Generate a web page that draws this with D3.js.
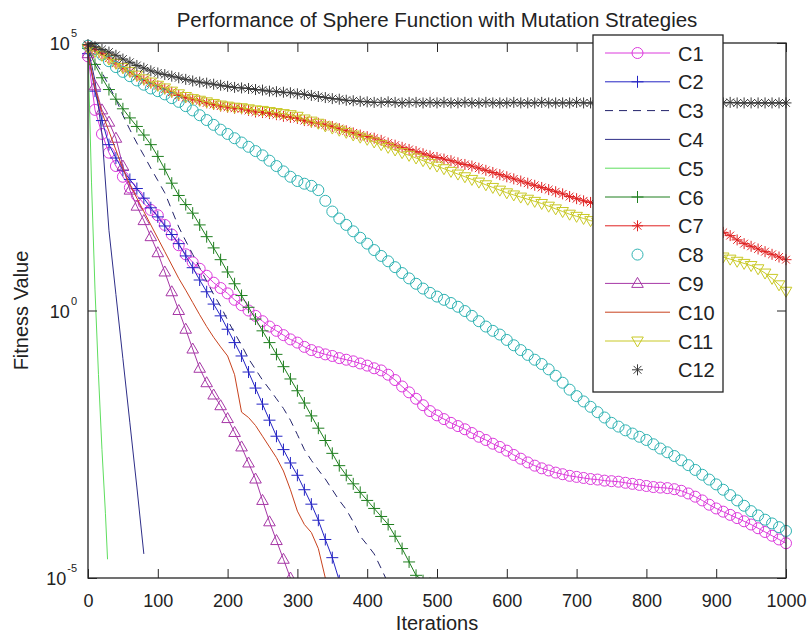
<!DOCTYPE html>
<html><head><meta charset="utf-8">
<script src="https://cdn.jsdelivr.net/npm/d3@7"></script>
<style>body{margin:0;background:#fff} text{font-family:"Liberation Sans",Arial,sans-serif;fill:#222}</style>
</head><body><svg id="chart" width="809" height="635"></svg>
<script>
// All series values are log10(fitness), sampled every 10 iterations unless noted.
const xTicks = [0,100,200,300,400,500,600,700,800,900,1000];
const yTickExp = [5,0,-5];
const names = ["C1","C2","C3","C4","C5","C6","C7","C8","C9","C10","C11","C12"];

const c1 = [4.75,3.75,3.3,2.95,2.7,2.5,2.3,2.15,2.0,1.88,1.78,1.6,1.42,1.22,1.05,0.9,0.78,0.65,0.52,0.42,0.32,0.2,0.1,0.0,-0.1,-0.2,-0.3,-0.38,-0.46,-0.54,-0.6,-0.68,-0.74,-0.78,-0.82,-0.85,-0.89,-0.92,-0.95,-0.99,-1.03,-1.08,-1.12,-1.2,-1.3,-1.42,-1.53,-1.65,-1.77,-1.88,-1.96,-2.03,-2.1,-2.16,-2.22,-2.29,-2.36,-2.42,-2.49,-2.55,-2.62,-2.7,-2.77,-2.84,-2.9,-2.95,-2.99,-3.03,-3.06,-3.09,-3.11,-3.13,-3.15,-3.16,-3.18,-3.19,-3.2,-3.22,-3.24,-3.26,-3.28,-3.3,-3.31,-3.32,-3.34,-3.37,-3.42,-3.48,-3.55,-3.63,-3.7,-3.76,-3.82,-3.88,-3.94,-4.0,-4.07,-4.14,-4.21,-4.28,-4.35];
const c2 = [4.8,4.1,3.55,3.1,2.85,2.62,2.45,2.28,2.1,1.92,1.75,1.58,1.42,1.25,1.02,0.8,0.57,0.35,0.12,-0.1,-0.35,-0.6,-0.85,-1.15,-1.45,-1.75,-2.05,-2.35,-2.6,-2.85,-3.08,-3.35,-3.62,-3.92,-4.28,-4.62,-5.05];
const c3 = [4.85,4.65,4.45,4.2,3.95,3.65,3.38,3.13,2.9,2.66,2.43,2.2,1.88,1.56,1.3,1.05,0.8,0.55,0.3,0.08,-0.18,-0.42,-0.65,-0.9,-1.1,-1.3,-1.47,-1.65,-1.83,-2.05,-2.32,-2.6,-2.8,-2.98,-3.15,-3.35,-3.55,-3.72,-3.95,-4.22,-4.38,-4.55,-4.82,-5.1];
const c4 = [4.9,4.3,3.3,1.5,0.3,-0.9,-2.1,-3.3,-4.55];
const c5Iter = [0,5,10,15,20,25,28];
const c5 = [4.9,2.4,0.4,-1.2,-2.6,-3.8,-4.65];
const c6 = [4.9,4.6,4.35,4.13,3.95,3.77,3.6,3.44,3.28,3.1,2.88,2.64,2.38,2.15,1.98,1.82,1.6,1.38,1.17,0.95,0.72,0.5,0.28,0.06,-0.16,-0.38,-0.6,-0.82,-1.05,-1.28,-1.5,-1.73,-1.97,-2.2,-2.43,-2.67,-2.9,-3.08,-3.24,-3.4,-3.55,-3.7,-3.85,-4.0,-4.22,-4.45,-4.7,-4.95,-5.05,-5.1];
const c7 = [4.95,4.88,4.8,4.72,4.62,4.53,4.46,4.38,4.31,4.25,4.2,4.14,4.08,4.02,3.98,3.95,3.92,3.88,3.85,3.82,3.8,3.78,3.77,3.74,3.71,3.7,3.68,3.66,3.63,3.61,3.59,3.55,3.52,3.5,3.47,3.44,3.4,3.36,3.32,3.28,3.25,3.22,3.18,3.13,3.09,3.05,3.01,2.97,2.93,2.89,2.86,2.83,2.8,2.76,2.73,2.7,2.66,2.62,2.58,2.54,2.5,2.46,2.42,2.38,2.34,2.3,2.26,2.22,2.18,2.13,2.09,2.05,2.02,2.0,1.97,1.95,1.92,1.89,1.86,1.83,1.8,1.77,1.74,1.71,1.68,1.65,1.62,1.58,1.55,1.52,1.49,1.46,1.4,1.32,1.25,1.2,1.15,1.1,1.05,1.0,0.95];
const c8 = [4.95,4.88,4.78,4.66,4.55,4.46,4.38,4.3,4.22,4.15,4.1,4.04,3.97,3.9,3.82,3.74,3.65,3.56,3.47,3.38,3.3,3.22,3.14,3.06,2.98,2.9,2.8,2.7,2.6,2.5,2.42,2.37,2.33,2.25,2.05,1.85,1.72,1.6,1.48,1.36,1.25,1.13,1.02,0.92,0.81,0.7,0.6,0.5,0.41,0.33,0.26,0.2,0.14,0.07,-0.01,-0.1,-0.2,-0.3,-0.38,-0.45,-0.55,-0.65,-0.74,-0.83,-0.92,-1.0,-1.1,-1.22,-1.35,-1.48,-1.6,-1.7,-1.8,-1.9,-2.0,-2.1,-2.17,-2.24,-2.3,-2.36,-2.42,-2.5,-2.58,-2.65,-2.72,-2.8,-2.89,-2.98,-3.07,-3.16,-3.25,-3.35,-3.45,-3.55,-3.65,-3.75,-3.83,-3.91,-3.98,-4.05,-4.12];
const c9 = [4.8,4.2,3.75,3.52,3.22,2.7,2.25,1.95,1.68,1.38,1.08,0.72,0.35,0.0,-0.35,-0.72,-1.08,-1.35,-1.58,-1.78,-2.02,-2.28,-2.55,-2.85,-3.15,-3.55,-3.95,-4.3,-4.65,-5.0,-5.35];
const c10 = [4.8,4.15,3.7,3.35,3.0,2.65,2.35,2.1,1.85,1.6,1.35,1.1,0.85,0.6,0.38,0.15,-0.08,-0.3,-0.5,-0.68,-0.85,-1.2,-1.9,-2.0,-2.15,-2.35,-2.55,-2.75,-3.0,-3.35,-3.75,-4.0,-4.15,-4.45,-5.0];
const c11 = [4.9,4.84,4.77,4.7,4.62,4.54,4.47,4.4,4.33,4.27,4.21,4.16,4.1,4.05,4.0,3.96,3.93,3.9,3.87,3.84,3.82,3.8,3.79,3.77,3.75,3.74,3.72,3.7,3.68,3.66,3.63,3.58,3.54,3.5,3.45,3.41,3.37,3.33,3.28,3.24,3.2,3.15,3.1,3.05,3.0,2.95,2.9,2.85,2.8,2.75,2.7,2.65,2.6,2.55,2.5,2.45,2.4,2.35,2.3,2.25,2.2,2.16,2.12,2.08,2.04,2.0,1.95,1.9,1.85,1.8,1.76,1.72,1.68,1.65,1.62,1.59,1.56,1.53,1.5,1.47,1.44,1.41,1.38,1.35,1.32,1.29,1.25,1.2,1.15,1.1,1.05,1.0,0.96,0.92,0.88,0.84,0.78,0.7,0.6,0.48,0.36];
const c12 = [4.97,4.93,4.88,4.83,4.77,4.7,4.64,4.58,4.53,4.48,4.44,4.41,4.38,4.35,4.32,4.29,4.27,4.25,4.23,4.21,4.19,4.17,4.16,4.15,4.13,4.12,4.1,4.09,4.08,4.07,4.05,4.04,4.02,4.0,3.98,3.96,3.95,3.93,3.92,3.91,3.9,3.89,3.89,3.9,3.89,3.88,3.89,3.89,3.88,3.89,3.88,3.89,3.88,3.88,3.89,3.88,3.88,3.89,3.88,3.88,3.88,3.89,3.88,3.88,3.88,3.89,3.88,3.88,3.88,3.88,3.89,3.88,3.88,3.88,3.88,3.88,3.89,3.88,3.88,3.88,3.88,3.88,3.88,3.89,3.88,3.88,3.88,3.88,3.88,3.88,3.88,3.88,3.89,3.88,3.88,3.88,3.88,3.88,3.88,3.88,3.88];

const colors = ["#dc3adc","#2424c4","#22226a","#2e2e88","#5ede5e","#1f7f1f","#e02222","#2fb3b3","#a637a6","#c8421e","#c9c926","#3a3a3a"];
const markers = ["circle","plus",null,null,null,"plus","star","circle","triUp",null,"triDown","star"];
const lineOn = [true,true,true,true,true,true,true,false,true,true,true,true];
const dashes = [null,null,"8,6",null,null,null,null,null,null,null,null,null];
const legendLine = [true,true,true,true,true,true,true,false,true,true,true,false];

const dataList = [c1,c2,c3,c4,c5,c6,c7,c8,c9,c10,c11,c12];
const series = dataList.map((vals,i)=>({
  name:names[i], color:colors[i], marker:markers[i], line:lineOn[i], dash:dashes[i],
  pts: vals.map((v,j)=>({it: i===4 ? c5Iter[j] : j*10, v: Math.pow(10,v)}))
}));

const L=88,R=786,T=43,B=578;
const x = d3.scaleLinear().domain([0,1000]).range([L,R]);
const y = d3.scaleLog().domain([1e-5,1e5]).range([B,T]);
const svg = d3.select("#chart");
const FONT = '"Liberation Sans",Arial,sans-serif';

const defs = svg.append("defs");
defs.append("clipPath").attr("id","plotclip").append("rect")
  .attr("x",L).attr("y",T).attr("width",R-L).attr("height",B-T);
defs.append("clipPath").attr("id","markclip").append("rect")
  .attr("x",0).attr("y",0).attr("width",809).attr("height",B);

function markerPath(type){
  switch(type){
    case "plus": return "M-6,0H6M0,-6V6";
    case "star": return "M-5.5,0H5.5M0,-5.5V5.5M-3.9,-3.9L3.9,3.9M-3.9,3.9L3.9,-3.9";
    case "triUp": return "M0,-6L5.8,4L-5.8,4Z";
    case "triDown": return "M0,6L5.8,-4L-5.8,-4Z";
    case "circle": return d3.symbol(d3.symbolCircle, Math.PI*5.5*5.5)();
  }
  return null;
}

const gData = svg.append("g");
const line = d3.line().x(d=>x(d.it)).y(d=>y(d.v));
series.forEach(s=>{
  const g = gData.append("g");
  if(s.line){
    g.append("path").datum(s.pts).attr("d",line).attr("fill","none")
      .attr("stroke",s.color).attr("stroke-width",1)
      .attr("stroke-dasharray",s.dash)
      .attr("clip-path","url(#plotclip)");
  }
  if(s.marker){
    g.append("g").attr("clip-path","url(#markclip)")
      .selectAll("path").data(s.pts.filter(d=>d.v>=Math.pow(10,-5.12))).join("path")
      .attr("d",markerPath(s.marker))
      .attr("transform",d=>`translate(${x(d.it)},${y(d.v)})`)
      .attr("fill","none").attr("stroke",s.color).attr("stroke-width",1);
  }
});

// axes box
svg.append("rect").attr("x",L).attr("y",T).attr("width",R-L).attr("height",B-T)
  .attr("fill","none").attr("stroke","#262626").attr("stroke-width",1.3);

const tickLen=9;
const xb = d3.axisBottom(x).tickValues(xTicks).tickSize(-tickLen).tickPadding(tickLen+7).tickFormat(d3.format("d"));
const gx = svg.append("g").attr("transform",`translate(0,${B})`).call(xb);
gx.select(".domain").remove();
gx.selectAll("line").attr("stroke","#262626");
gx.selectAll("text").attr("font-size",18).attr("fill","#222").style("font-family",FONT);
const xt = d3.axisTop(x).tickValues(xTicks).tickSize(-tickLen).tickFormat("");
const gxt = svg.append("g").attr("transform",`translate(0,${T})`).call(xt);
gxt.select(".domain").remove(); gxt.selectAll("line").attr("stroke","#262626");

const yv = yTickExp.map(e=>Math.pow(10,e));
const yl = d3.axisLeft(y).tickValues(yv).tickSize(-tickLen).tickFormat("");
const gyl = svg.append("g").attr("transform",`translate(${L},0)`).call(yl);
gyl.select(".domain").remove(); gyl.selectAll("line").attr("stroke","#262626");
const yr = d3.axisRight(y).tickValues(yv).tickSize(-tickLen).tickFormat("");
const gyr = svg.append("g").attr("transform",`translate(${R},0)`).call(yr);
gyr.select(".domain").remove(); gyr.selectAll("line").attr("stroke","#262626");

yTickExp.forEach(e=>{
  const t = svg.append("text").attr("x",L-11).attr("y",y(Math.pow(10,e))+7)
    .attr("text-anchor","end").attr("font-size",18);
  t.append("tspan").text("10");
  t.append("tspan").attr("dy",-13).attr("dx",1).attr("font-size",11).text(String(e));
});

// titles
svg.append("text").attr("x",(L+R)/2).attr("y",27).attr("text-anchor","middle")
  .attr("font-size",20.5).text("Performance of Sphere Function with Mutation Strategies");
svg.append("text").attr("x",(L+R)/2).attr("y",630).attr("text-anchor","middle")
  .attr("font-size",20).text("Iterations");
svg.append("text").attr("transform",`translate(28,${(T+B)/2}) rotate(-90)`).attr("text-anchor","middle")
  .attr("font-size",20).text("Fitness Value");

// legend
const lg = svg.append("g");
const lx0=593, ly0=35, lw=130, lh=357, step=28.8;
lg.append("rect").attr("x",lx0).attr("y",ly0).attr("width",lw).attr("height",lh)
  .attr("fill","#fff").attr("stroke","#262626").attr("stroke-width",1.3);
series.forEach((s,i)=>{
  const cy = ly0+18+i*step;
  if(legendLine[i]){
    lg.append("line").attr("x1",lx0+12).attr("x2",lx0+77).attr("y1",cy).attr("y2",cy)
      .attr("stroke",s.color).attr("stroke-width",1).attr("stroke-dasharray",s.dash);
  }
  if(s.marker){
    lg.append("path").attr("d",markerPath(s.marker)).attr("transform",`translate(${lx0+44.5},${cy})`)
      .attr("fill","none").attr("stroke",s.color).attr("stroke-width",1);
  }
  lg.append("text").attr("x",lx0+85).attr("y",cy+7.5).attr("font-size",20).text(s.name);
});
</script></body></html>
